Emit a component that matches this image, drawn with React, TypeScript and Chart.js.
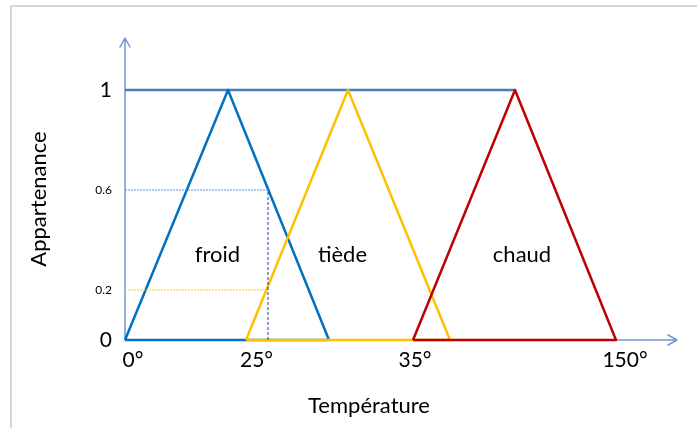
import React, { useEffect, useRef } from "react";
import { Chart, registerables } from "chart.js";

Chart.register(...registerables);

// Abstract horizontal position units along the temperature axis (not linear in °)
const X_MAX = 110.4;
const Y_MAX = 1.208;

const froidX = [0, 20.6, 40.8, 0];
const froidY = [0, 1, 0, 0];
const tiedeX = [24.2, 44.6, 65, 24.2];
const tiedeY = [0, 1, 0, 0];
const chaudX = [57.6, 78, 98.2, 57.6];
const chaudY = [0, 1, 0, 0];
const levelX = [0, 78];
const levelY = [1, 1];

const sampleX = 28.6;
const sampleFroid = 0.6;
const sampleTiede = 0.2;

const tempTicks = [1.6, 26.3, 58, 100];
const tempLabels = ["0°", "25°", "35°", "150°"];
const memberTicks = [0, 0.2, 0.6, 1];

const setNames = ["froid", "tiède", "chaud"];
const setNameX = [18.5, 43.5, 79.4];
const setNameY = 0.312;

const FONT = "Lato, 'Open Sans', sans-serif";

const pts = (xs: number[], ys: number[]) => xs.map((x, i) => ({ x, y: ys[i] }));

const diagramPlugin = {
  id: "diagram",
  beforeDraw(chart: any) {
    const ctx = chart.ctx;
    ctx.save();
    ctx.fillStyle = "#ffffff";
    ctx.fillRect(0, 0, chart.width, chart.height);
    ctx.strokeStyle = "#c3ccd8";
    ctx.lineWidth = 1.5;
    ctx.beginPath();
    ctx.moveTo(11, chart.height);
    ctx.lineTo(11, 6);
    ctx.lineTo(chart.width, 6);
    ctx.stroke();
    ctx.restore();
  },
  beforeDatasetsDraw(chart: any) {
    const ctx = chart.ctx;
    const { left, right, top, bottom } = chart.chartArea;
    ctx.save();
    ctx.strokeStyle = "#6f98d2";
    ctx.lineWidth = 1.5;
    ctx.lineCap = "round";
    ctx.lineJoin = "round";
    ctx.beginPath();
    ctx.moveTo(left, bottom);
    ctx.lineTo(left, top);
    ctx.moveTo(left - 5, top + 9);
    ctx.lineTo(left, top);
    ctx.lineTo(left + 5, top + 9);
    ctx.moveTo(left, bottom);
    ctx.lineTo(right, bottom);
    ctx.moveTo(right - 9, bottom - 5);
    ctx.lineTo(right, bottom);
    ctx.lineTo(right - 9, bottom + 5);
    ctx.stroke();
    ctx.restore();
  },
  afterDraw(chart: any) {
    const ctx = chart.ctx;
    const xs = chart.scales.x;
    const ys = chart.scales.y;
    ctx.save();
    ctx.fillStyle = "#000000";
    ctx.font = `22px ${FONT}`;
    ctx.textAlign = "center";
    ctx.textBaseline = "alphabetic";
    setNames.forEach((n, i) => {
      ctx.fillText(n, xs.getPixelForValue(setNameX[i]), ys.getPixelForValue(setNameY));
    });
    ctx.fillText("Température", 369, 413);
    ctx.translate(46, 199);
    ctx.rotate(-Math.PI / 2);
    ctx.fillText("Appartenance", 0, 0);
    ctx.restore();
  },
};

export default function App() {
  const ref = useRef<HTMLCanvasElement | null>(null);
  useEffect(() => {
    if (!ref.current) return;
    const line = (data: any[], color: string, width: number, order: number, dash: number[] = []) => ({
      data,
      borderColor: color,
      backgroundColor: color,
      borderWidth: width,
      borderDash: dash,
      pointRadius: 0,
      fill: false,
      tension: 0,
      order,
      clip: false as any,
      borderJoinStyle: "round" as any,
      borderCapStyle: "butt" as any,
    });
    const chart = new Chart(ref.current, {
      type: "line",
      data: {
        datasets: [
          line(pts(levelX, levelY), "#4a7ebb", 2.5, 5),
          line(pts(froidX, froidY), "#0070c0", 2.5, 4),
          line(pts(tiedeX, tiedeY), "#ffc000", 2.5, 3),
          line(pts(chaudX, chaudY), "#c00000", 2.5, 2),
          line(pts([0, sampleX], [sampleFroid, sampleFroid]), "#5b8fd6", 1, 1, [2, 1]),
          line(pts([0, sampleX], [sampleTiede, sampleTiede]), "#ffc933", 1, 1, [2, 1]),
          line(pts([sampleX, sampleX], [0, sampleFroid]), "#1f3c88", 1, 0, [3, 2]),
        ],
      },
      options: {
        animation: false,
        responsive: true,
        maintainAspectRatio: false,
        layout: { padding: { top: 38, right: 20, left: 0, bottom: 0 } },
        plugins: { legend: { display: false }, tooltip: { enabled: false } },
        scales: {
          x: {
            type: "linear",
            min: 0,
            max: X_MAX,
            grid: { display: false, drawTicks: false },
            border: { display: false },
            afterFit: (s: any) => {
              s.height = 88;
            },
            afterBuildTicks: (s: any) => {
              s.ticks = tempTicks.map((v) => ({ value: v }));
            },
            ticks: {
              autoSkip: false,
              maxRotation: 0,
              padding: 8,
              color: "#000000",
              font: { family: FONT, size: 21 },
              callback: (_v: any, i: number) => tempLabels[i],
            },
          },
          y: {
            type: "linear",
            min: 0,
            max: Y_MAX,
            grid: { display: false, drawTicks: false },
            border: { display: false },
            afterFit: (s: any) => {
              s.width = 125;
            },
            afterBuildTicks: (s: any) => {
              s.ticks = memberTicks.map((v) => ({ value: v }));
            },
            ticks: {
              autoSkip: false,
              padding: 13,
              color: "#000000",
              font: (c: any) => ({
                family: FONT,
                size: c.tick && (c.tick.value === 0 || c.tick.value === 1) ? 21 : 12,
              }),
              callback: (v: any) => String(v),
            },
          },
        },
      },
      plugins: [diagramPlugin],
    });
    return () => chart.destroy();
  }, []);
  return (
    <div style={{ position: "fixed", left: 0, top: 0, width: 697, height: 428, background: "#fff" }}>
      <canvas ref={ref} />
    </div>
  );
}
